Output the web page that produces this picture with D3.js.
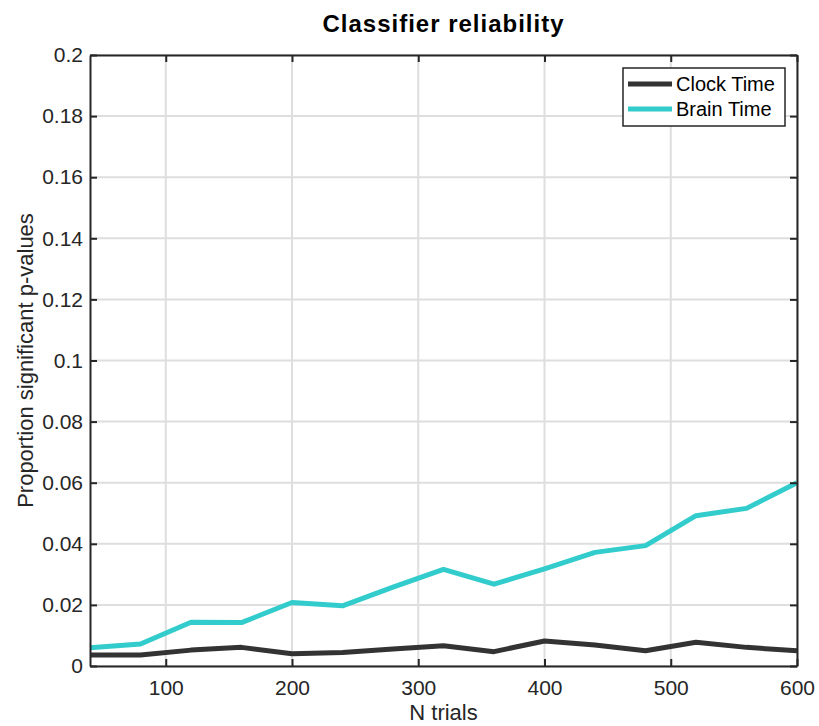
<!DOCTYPE html>
<html>
<head>
<meta charset="utf-8">
<script src="https://cdn.jsdelivr.net/npm/d3@7"></script>
<style>
  html, body { margin: 0; padding: 0; background: #fff; }
  svg { display: block; font-family: "Liberation Sans", Arial, sans-serif; }
</style>
</head>
<body>
<svg id="chart" width="819" height="726"></svg>
<script>
// Number of trials sampled
const nTrials = [40, 80, 120, 160, 200, 240, 280, 320, 360, 400, 440, 480, 520, 560, 600];
// Proportion of significant p-values per condition
const clockTime = [0.0036, 0.0036, 0.0052, 0.0061, 0.0040, 0.0044, 0.0056, 0.0066, 0.0047, 0.0082, 0.0069, 0.0050, 0.0078, 0.0061, 0.0050];
const brainTime = [0.0060, 0.0072, 0.0143, 0.0142, 0.0208, 0.0197, 0.0258, 0.0316, 0.0268, 0.0318, 0.0372, 0.0394, 0.0492, 0.0516, 0.0600];
const xTicks = [100, 200, 300, 400, 500, 600];
const yTicks = [0, 0.02, 0.04, 0.06, 0.08, 0.1, 0.12, 0.14, 0.16, 0.18, 0.2];
const seriesNames = ["Clock Time", "Brain Time"];
const seriesColors = ["#333333", "#33cccc"];

const svg = d3.select("#chart");
const m = { left: 90, right: 797, top: 55, bottom: 666 };

const x = d3.scaleLinear().domain([40, 600]).range([m.left, m.right]);
const y = d3.scaleLinear().domain([0, 0.2]).range([m.bottom, m.top]);

const axisColor = "#262626";
const gridColor = "#dedede";
const tickLen = 7;

// grid
svg.append("g").selectAll("line").data(xTicks).join("line")
  .attr("x1", d => x(d)).attr("x2", d => x(d))
  .attr("y1", m.top).attr("y2", m.bottom)
  .attr("stroke", gridColor).attr("stroke-width", 2);
svg.append("g").selectAll("line").data(yTicks).join("line")
  .attr("x1", m.left).attr("x2", m.right)
  .attr("y1", d => y(d)).attr("y2", d => y(d))
  .attr("stroke", gridColor).attr("stroke-width", 2);

// data lines
const series = [clockTime, brainTime];
const line = d3.line().x((d, i) => x(nTrials[i])).y(d => y(d));
series.forEach((vals, k) => {
  svg.append("path")
    .datum(vals)
    .attr("d", line)
    .attr("fill", "none")
    .attr("stroke", seriesColors[k])
    .attr("stroke-width", 5)
    .attr("stroke-linejoin", "round");
});

// axes (ticks pointing inward on all four sides)
const fmt = d => String(+d.toFixed(2));
const bottomAxis = d3.axisBottom(x).tickValues(xTicks).tickSizeInner(-tickLen).tickSizeOuter(0).tickPadding(14);
const topAxis = d3.axisTop(x).tickValues(xTicks).tickSizeInner(-tickLen).tickSizeOuter(0).tickFormat("");
const leftAxis = d3.axisLeft(y).tickValues(yTicks).tickSizeInner(-tickLen).tickSizeOuter(0).tickPadding(7).tickFormat(fmt);
const rightAxis = d3.axisRight(y).tickValues(yTicks).tickSizeInner(-tickLen).tickSizeOuter(0).tickFormat("");

function styleAxis(g) {
  g.select(".domain").attr("stroke", axisColor).attr("stroke-width", 2);
  g.selectAll(".tick line").attr("stroke", axisColor).attr("stroke-width", 2);
  g.selectAll(".tick text").attr("fill", "#262626")
    .style("font-family", "'Liberation Sans', Arial, sans-serif").style("font-size", "21px");
}
svg.append("g").attr("transform", `translate(0,${m.bottom})`).call(bottomAxis).call(styleAxis);
svg.append("g").attr("transform", `translate(0,${m.top})`).call(topAxis).call(styleAxis);
svg.append("g").attr("transform", `translate(${m.left},0)`).call(leftAxis).call(styleAxis);
svg.append("g").attr("transform", `translate(${m.right},0)`).call(rightAxis).call(styleAxis);

// title and axis labels
svg.append("text")
  .attr("x", (m.left + m.right) / 2).attr("y", 32)
  .attr("text-anchor", "middle")
  .style("font-size", "24px").style("font-weight", "bold").style("letter-spacing", "1px")
  .attr("fill", "#000")
  .text("Classifier reliability");
svg.append("text")
  .attr("x", (m.left + m.right) / 2).attr("y", 720)
  .attr("text-anchor", "middle")
  .style("font-size", "22px").attr("fill", "#262626")
  .text("N trials");
svg.append("text")
  .attr("transform", `translate(33,${(m.top + m.bottom) / 2}) rotate(-90)`)
  .attr("text-anchor", "middle")
  .style("font-size", "22px").attr("fill", "#262626")
  .text("Proportion significant p-values");

// legend
const lg = svg.append("g");
lg.append("rect")
  .attr("x", 623).attr("y", 68).attr("width", 162).attr("height", 58)
  .attr("fill", "#fff").attr("stroke", axisColor).attr("stroke-width", 1.5);
seriesNames.forEach((name, k) => {
  const cy = 84 + k * 25;
  lg.append("line")
    .attr("x1", 628).attr("x2", 672).attr("y1", cy).attr("y2", cy)
    .attr("stroke", seriesColors[k]).attr("stroke-width", 5);
  lg.append("text")
    .attr("x", 676).attr("y", cy + 7)
    .style("font-size", "20px").attr("fill", "#000")
    .text(name);
});
</script>
</body>
</html>
